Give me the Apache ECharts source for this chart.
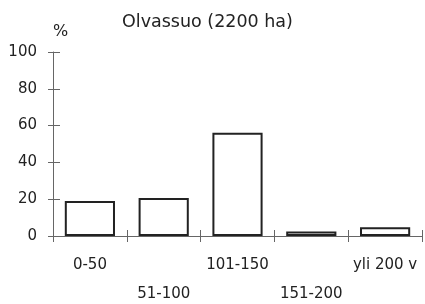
<!DOCTYPE html>
<html><head><meta charset="utf-8">
<script src="https://cdn.jsdelivr.net/npm/echarts@6/dist/echarts.min.js"></script>
<style>html,body{margin:0;padding:0;background:#fff}#c{width:425px;height:304px}</style>
</head><body><div id="c"></div>
<script>
var title = 'Olvassuo (2200 ha)';
var categories = ['0-50', '51-100', '101-150', '151-200', 'yli 200 v'];
var values = [19, 20.6, 56.1, 2.4, 4.8];
var yTicks = [0, 20, 40, 60, 80, 100];

var font = 'DejaVu Sans';
var chart = echarts.init(document.getElementById('c'));
var axisCol = '#666';
var txtCol = '#222';
chart.setOption({
  animation: false,
  backgroundColor: '#fff',
  title: { text: title, left: 122, top: 13, padding: 0,
    textStyle: { fontFamily: font, fontSize: 17.5, fontWeight: 'normal', color: txtCol } },
  grid: { left: 53, right: 3, top: 52, bottom: 68, containLabel: false, outerBoundsMode: 'none' },
  xAxis: [{
    type: 'category', data: categories,
    axisLine: { lineStyle: { color: axisCol, width: 1 } },
    axisTick: { show: true, length: 6, inside: false, lineStyle: { color: axisCol } },
    axisLabel: { fontFamily: font, fontSize: 15, color: txtCol, margin: 15, lineHeight: 29,
      verticalAlign: 'top', interval: 0, hideOverlap: false,
      formatter: function (v, i) { return i % 2 ? '\n' + v : v; } }
  }, {
    type: 'category', data: categories, position: 'bottom',
    axisLine: { show: false },
    axisTick: { show: true, length: 6, inside: true, lineStyle: { color: axisCol } },
    axisLabel: { show: false }
  }],
  yAxis: [{
    type: 'value', min: yTicks[0], max: yTicks[yTicks.length - 1], interval: yTicks[1] - yTicks[0],
    name: '%', nameLocation: 'end', nameGap: 12,
    nameTextStyle: { fontFamily: font, fontSize: 16, color: txtCol, align: 'left', verticalAlign: 'bottom' },
    splitLine: { show: false },
    axisLine: { show: true, lineStyle: { color: axisCol, width: 1 } },
    axisTick: { show: true, length: 5, inside: false, lineStyle: { color: axisCol } },
    axisLabel: { fontFamily: font, fontSize: 15, color: txtCol, margin: 16 }
  }, {
    type: 'value', min: yTicks[0], max: yTicks[yTicks.length - 1], interval: yTicks[1] - yTicks[0],
    position: 'left', offset: 0,
    splitLine: { show: false },
    axisLine: { show: false },
    axisTick: { show: true, length: 7, inside: true, lineStyle: { color: axisCol } },
    axisLabel: { show: false }
  }],
  series: [{
    type: 'bar', data: values, xAxisIndex: 0, yAxisIndex: 0,
    barWidth: '68%',
    itemStyle: { color: '#fff', borderColor: '#222', borderWidth: 2 }
  }]
});
</script>
</body></html>
